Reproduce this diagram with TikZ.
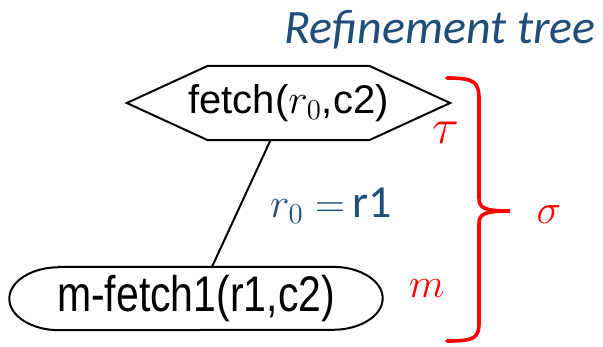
\documentclass[tikz,border=0pt]{standalone}
\usepackage[no-math]{fontspec}
\setmainfont{Liberation Sans}
\newfontfamily\carlito{Carlito}
\usetikzlibrary{positioning}
\definecolor{TitleBlue}{HTML}{1F4E79}
\definecolor{BraceRed} {HTML}{FF0000}
% math at twice the given size
\newcommand{\mth}[2]{\scalebox{2}{\fontsize{#1}{#1}\selectfont$#2$}}
\tikzset{
  hexbox/.style={rectangle,inner sep=0pt,minimum width=323pt,minimum height=74pt,
                 font=\fontsize{40}{40}\selectfont},
  pillbox/.style={rectangle,inner sep=0pt,minimum width=373pt,minimum height=63pt,
                  font=\fontsize{41}{41}\selectfont},
  outline/.style={line width=2pt,black},
  greek/.style={inner sep=0pt,text=BraceRed},
  brc/.style={line width=3.6pt,BraceRed,line cap=round},
}
\begin{document}
\begin{tikzpicture}[x=1pt,y=-1pt]
  \useasboundingbox (0,0) rectangle (603,346);

  \node[anchor=base east,inner sep=0pt,text=TitleBlue,
        font=\carlito\itshape\fontsize{48}{48}\selectfont]
    (title) at (596,43) {Refinement tree};

  % task and method nodes
  \node[hexbox]  (fetch)  at (288.5,103) {fetch(\mth{20}{r_0},c2)};
  \node[pillbox] (mfetch) at (196,298.5) {\scalebox{1}[1.22]{m-fetch1(r1,c2)}};

  \draw[outline] (fetch.west) -- ([xshift=81pt]fetch.north west)
    -- ([xshift=-81pt]fetch.north east) -- (fetch.east)
    -- ([xshift=-81pt]fetch.south east) -- ([xshift=81pt]fetch.south west) -- cycle;
  \draw[outline] ([xshift=50pt]mfetch.north west) -- ([xshift=-50pt]mfetch.north east)
    arc[start angle=90,end angle=-90,x radius=50pt,y radius=31.5pt]
    -- ([xshift=50pt]mfetch.south west)
    arc[start angle=270,end angle=90,x radius=50pt,y radius=31.5pt] -- cycle;

  \draw[outline] ([xshift=-18pt]fetch.south) -- ([xshift=16pt]mfetch.north);
  \node[anchor=base west,inner sep=0pt,text=TitleBlue,font=\fontsize{46}{46}\selectfont]
    (bind) at (270,217) {\mth{21}{r_0 =}\,{\carlito r1}};

  % brace with labels
  \node[greek,anchor=base] (tau)   at (446,143) {\mth{23}{\tau}};
  \node[greek,anchor=base] (sigma) at (549,223) {\mth{21}{\sigma}};
  \node[greek,anchor=base] (mlab)  at (427,297) {\mth{20}{m}};
  \draw[brc] (447,78) .. controls (475,78) and (479,82) .. (479,100) -- (479,198)
    .. controls (479,208) and (484,211) .. (510,211)
    .. controls (484,211) and (479,214) .. (479,224) -- (479,322)
    .. controls (479,338) and (475,341) .. (447,341);

\end{tikzpicture}
\end{document}
